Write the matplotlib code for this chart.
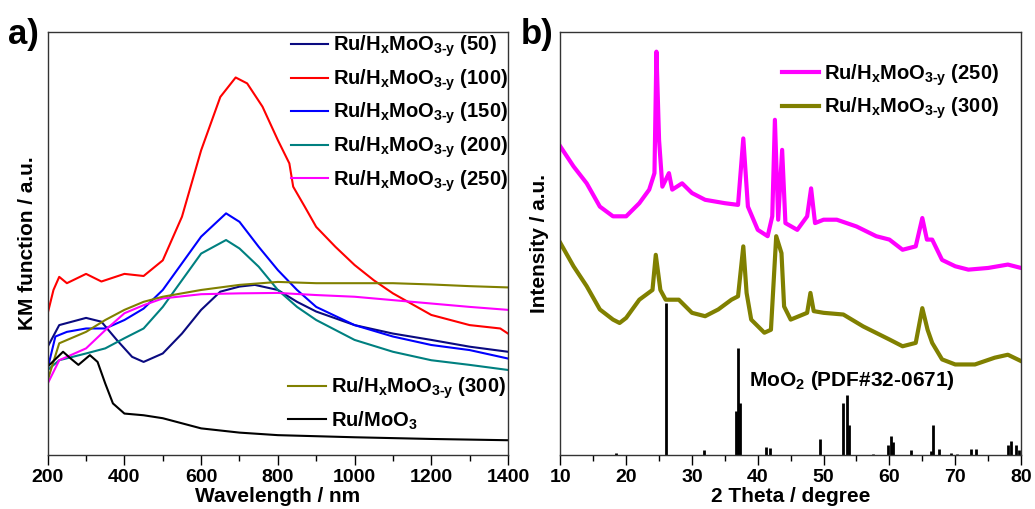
import matplotlib.pyplot as plt

plt.rcParams["font.family"] = "Liberation Sans"
plt.rcParams["font.weight"] = "bold"
plt.rcParams["mathtext.fontset"] = "custom"
plt.rcParams["mathtext.bf"] = "Liberation Sans:bold"
plt.rcParams["mathtext.rm"] = "Liberation Sans:bold"
plt.rcParams["mathtext.default"] = "bf"

# --- UV-vis-NIR (KM function, arbitrary units) ---
wl_50 = [200, 230, 300, 340, 380, 420, 450, 500, 550, 600, 650, 700, 740, 800, 850, 900, 1000, 1100, 1200, 1300, 1400]
km_50 = [25.6, 30.7, 32.4, 31.5, 27.2, 23.2, 22.0, 24.0, 28.7, 34.3, 38.6, 39.8, 40.2, 39.0, 36.2, 33.9, 30.7, 28.7, 27.2, 25.6, 24.4]

wl_100 = [200, 215, 230, 250, 300, 340, 400, 450, 500, 550, 600, 650, 690, 720, 760, 800, 830, 840, 870, 900, 950, 1000, 1050, 1100, 1200, 1300, 1380, 1400]
km_100 = [33.5, 39.0, 42.1, 40.6, 42.8, 41.0, 42.8, 42.3, 46.0, 56.3, 72.0, 84.6, 89.2, 87.8, 82.3, 74.4, 68.9, 63.4, 58.7, 53.9, 49.2, 44.9, 41.3, 38.2, 33.1, 30.7, 29.9, 28.7]

wl_150 = [200, 220, 250, 300, 350, 400, 450, 500, 550, 600, 665, 700, 750, 800, 850, 900, 1000, 1100, 1200, 1300, 1400]
km_150 = [20.5, 28.0, 29.1, 29.9, 29.9, 31.9, 34.6, 39.0, 45.3, 51.6, 57.1, 55.1, 49.2, 43.7, 39.0, 35.0, 30.7, 28.0, 26.0, 24.8, 22.8]

wl_200 = [200, 230, 300, 350, 400, 450, 500, 550, 600, 665, 700, 750, 800, 850, 900, 1000, 1100, 1200, 1300, 1400]
km_200 = [20.1, 22.4, 24.0, 25.2, 27.6, 29.9, 35.0, 41.3, 47.6, 50.8, 48.8, 44.5, 39.0, 35.0, 31.9, 27.2, 24.4, 22.4, 21.3, 20.1]

wl_250 = [200, 230, 300, 350, 400, 450, 500, 600, 700, 800, 900, 1000, 1100, 1200, 1300, 1400]
km_250 = [16.9, 22.4, 25.2, 29.5, 33.5, 35.4, 37.0, 38.0, 38.2, 38.3, 37.8, 37.4, 36.6, 35.8, 35.0, 34.3]

wl_300 = [200, 230, 300, 350, 400, 450, 500, 600, 700, 800, 900, 1000, 1100, 1200, 1300, 1400]
km_300 = [17.7, 26.4, 29.1, 31.9, 34.3, 36.2, 37.4, 39.0, 40.2, 40.9, 40.6, 40.6, 40.6, 40.3, 39.9, 39.6]

wl_moo3 = [200, 240, 260, 280, 310, 330, 350, 370, 400, 450, 500, 600, 700, 800, 1000, 1200, 1400]
km_moo3 = [20.9, 24.4, 22.8, 21.3, 23.6, 22.0, 16.9, 12.2, 9.8, 9.4, 8.7, 6.3, 5.3, 4.7, 4.2, 3.8, 3.5]

# --- XRD patterns ---
tt_250 = [10, 12, 14, 16, 18, 20, 22, 23.5, 24.3, 24.6, 25.0, 25.5, 26.5, 27, 28.5, 30, 32, 35, 37, 37.8, 38.5, 40,
          41.5, 42.2, 42.6, 43.1, 43.7, 44.2, 46, 47.5, 48.1, 48.7, 50, 52, 55, 58, 60, 62, 64, 65, 65.7, 66.5, 68,
          70, 72, 75, 78, 80]
int_250 = [72.9, 68.2, 64.2, 58.7, 56.4, 56.4, 59.5, 62.7, 66.6, 95.3, 74.4, 63.4, 66.6, 62.7, 64.2, 61.9, 60.3, 59.5,
           59.1, 74.8, 58.7, 53.2, 51.7, 56.4, 79.2, 55.6, 72.1, 54.8, 53.2, 56.4, 63.0, 54.8, 55.6, 55.6, 54.0, 51.7,
           50.9, 48.5, 49.3, 56.0, 50.9, 50.9, 46.1, 44.6, 43.8, 44.2, 45.0, 44.2]

tt_300 = [10, 12, 14, 16, 18, 19, 20, 22, 24, 24.5, 25.2, 26, 28, 30, 32, 34, 36, 37, 37.8, 38.3, 39, 41, 42, 42.8,
          43.6, 44, 45, 47.5, 48, 48.5, 50, 53, 56, 60, 62, 64, 65, 65.8, 66.5, 68, 70, 73, 76, 78, 80]
int_300 = [50.1, 44.6, 39.9, 34.4, 32.0, 31.2, 32.4, 36.7, 39.0, 47.3, 39.0, 36.7, 36.7, 33.6, 32.8, 34.4, 36.7, 37.5,
           49.3, 38.3, 32.0, 28.9, 29.6, 51.7, 47.7, 35.1, 32.0, 33.6, 38.3, 34.0, 33.6, 33.2, 30.4, 27.3, 25.7, 26.5,
           34.7, 29.6, 26.5, 22.6, 21.4, 21.4, 23.0, 23.7, 22.2]

# MoO2 reference pattern, PDF#32-0671
ref_pos = [18.5, 26.0, 31.8, 36.7, 37.0, 37.3, 41.3, 41.8, 49.4, 53.0, 53.5, 53.9, 57.5, 59.8, 60.2, 60.5,
           63.3, 66.3, 66.6, 67.5, 69.3, 70.2, 72.4, 73.2, 78.0, 78.5, 79.3, 79.7]
ref_int = [0.5, 35.9, 1.3, 10.4, 25.3, 12.3, 2.0, 1.7, 3.9, 12.3, 14.3, 7.0, 0.3, 2.4, 4.5, 3.1,
           1.3, 0.9, 7.0, 1.5, 0.5, 0.3, 1.5, 1.5, 2.4, 3.3, 2.4, 1.3]

label = r"Ru/H$_\mathbf{x}$MoO$_\mathbf{3\text{-}y}$ (%s)"

fig = plt.figure(figsize=(10.35, 5.09), dpi=100)
ax1 = fig.add_axes([0.0461, 0.106, 0.4447, 0.8316])
ax2 = fig.add_axes([0.5414, 0.106, 0.4451, 0.8316])

lw = 1.5
l50, = ax1.plot(wl_50, km_50, color="#0a0a80", lw=lw, label=label % "50")
l100, = ax1.plot(wl_100, km_100, color="#ff0000", lw=lw, label=label % "100")
l150, = ax1.plot(wl_150, km_150, color="#0000ff", lw=lw, label=label % "150")
l200, = ax1.plot(wl_200, km_200, color="#008080", lw=lw, label=label % "200")
l250, = ax1.plot(wl_250, km_250, color="#ff00ff", lw=lw, label=label % "250")
l300, = ax1.plot(wl_300, km_300, color="#808000", lw=lw, label=label % "300")
lmoo3, = ax1.plot(wl_moo3, km_moo3, color="black", lw=lw, label=r"Ru/MoO$_\mathbf{3}$")

leg_kw = dict(frameon=False, fontsize=14.5, handlelength=1.85, handletextpad=0.25, labelspacing=0.4,
              borderaxespad=0, borderpad=0)
leg1 = ax1.legend(handles=[l50, l100, l150, l200, l250], loc="upper left", bbox_to_anchor=(0.529, 0.995), **leg_kw)
ax1.add_artist(leg1)
ax1.legend(handles=[l300, lmoo3], loc="lower left", bbox_to_anchor=(0.523, 0.055), **leg_kw)

ax1.set_xlim(200, 1400)
ax1.set_ylim(0, 100)
ax1.set_xticks(range(200, 1401, 200))
ax1.set_xticks(range(300, 1400, 200), minor=True)
ax1.set_xlabel("Wavelength / nm", fontsize=15, fontweight="bold", labelpad=1)
ax1.set_ylabel("KM function / a.u.", fontsize=15, fontweight="bold", labelpad=8)

x250, = ax2.plot(tt_250, int_250, color="#ff00ff", lw=3, label=label % "250")
x300, = ax2.plot(tt_300, int_300, color="#808000", lw=3, label=label % "300")
ax2.vlines(ref_pos, 0, ref_int, color="black", lw=2)
ax2.text(38.6, 16.2, r"MoO$_\mathbf{2}$ (PDF#32-0671)", fontsize=15, fontweight="bold", va="baseline")
ax2.legend(handles=[x250, x300], loc="upper left", bbox_to_anchor=(0.481, 0.928), **leg_kw)

ax2.set_xlim(10, 80)
ax2.set_ylim(0, 100)
ax2.set_xticks(range(10, 81, 10))
ax2.set_xticks(range(15, 80, 10), minor=True)
ax2.set_xlabel("2 Theta / degree", fontsize=15, fontweight="bold", labelpad=1)
ax2.set_ylabel("Intensity / a.u.", fontsize=15, fontweight="bold", labelpad=8)

for ax in (ax1, ax2):
    ax.set_yticks([])
    ax.tick_params(axis="x", which="major", direction="out", length=7, width=1, labelsize=14, pad=3)
    ax.tick_params(axis="x", which="minor", direction="out", length=4, width=1)
    for lab in ax.get_xticklabels():
        lab.set_fontweight("bold")
    for sp in ax.spines.values():
        sp.set_color("#333333")
        sp.set_linewidth(1)

fig.text(0.008, 1 - 44 / 509, "a)", fontsize=25, fontweight="bold", va="baseline")
fig.text(0.503, 1 - 44 / 509, "b)", fontsize=25, fontweight="bold", va="baseline")

fig.savefig("out.png", dpi=100)
